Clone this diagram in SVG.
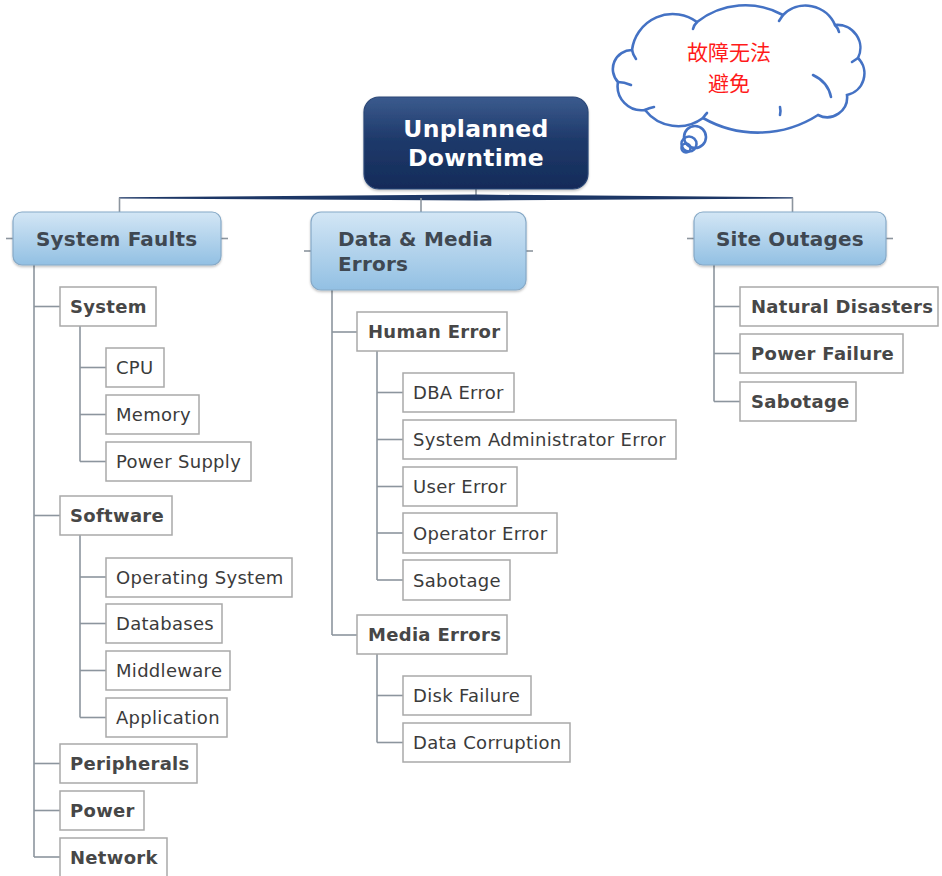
<svg xmlns="http://www.w3.org/2000/svg" width="942" height="876" viewBox="0 0 942 876">
  <style>
    .leaf rect { fill: #ffffff; stroke: #a9a9a9; stroke-width: 1.5; }
    .leaf text { font-family: "DejaVu Sans", Verdana, sans-serif; font-size: 18px; letter-spacing: 0.3px; fill: #3b3b3b; }
    .leaf.bold text { font-weight: bold; fill: #474747; }
    .cat rect { fill: url(#catFill); stroke: #86a9c7; stroke-width: 1.2; filter: url(#soft); }
    .cat text { font-family: "DejaVu Sans", Verdana, sans-serif; font-size: 20px; letter-spacing: 0.2px; font-weight: bold; fill: #3f4852; }
    .conn line { stroke: #8c959e; stroke-width: 1.6; }
    .stub { stroke: #b8c4cf; stroke-width: 1.2; }
    .cloud { fill: #ffffff; stroke: #4472c4; stroke-width: 2.6; stroke-linecap: round; }
    .curl { fill: none; stroke: #4472c4; stroke-width: 2.6; stroke-linecap: round; }
    .cjk { font-family: "Noto Sans CJK SC", "Noto Sans CJK TC", sans-serif; font-size: 21px; fill: #ff1a1a; text-anchor: middle; }
  </style>
  <defs>
    <linearGradient id="rootFill" x1="0" y1="0" x2="0" y2="1">
      <stop offset="0" stop-color="#3b5b8e"/>
      <stop offset="0.45" stop-color="#1f3a6b"/>
      <stop offset="1" stop-color="#142b59"/>
    </linearGradient>
    <linearGradient id="catFill" x1="0" y1="0" x2="0" y2="1">
      <stop offset="0" stop-color="#d3e6f5"/>
      <stop offset="1" stop-color="#92c0e3"/>
    </linearGradient>
    <filter id="soft" x="-10%" y="-10%" width="120%" height="130%">
      <feDropShadow dx="0" dy="1.5" stdDeviation="1.2" flood-color="#000000" flood-opacity="0.25"/>
    </filter>
  </defs>

  <rect width="942" height="876" fill="#ffffff"/>

  <!-- connectors -->
  <g id="connectors" class="conn">
    <!-- root trunk and tapered bar -->
    <line x1="476" y1="189" x2="476" y2="197"/>
    <polygon points="119,197.2 476,194.6 793,197.2 793,198.6 476,200.4 119,198.6" fill="#1d3766" stroke="none"/>
    <line x1="119.5" y1="197.5" x2="119.5" y2="212" stroke="#6a7178"/>
    <line x1="421" y1="198" x2="421" y2="212" stroke="#6a7178"/>
    <line x1="792.5" y1="197.5" x2="792.5" y2="212" stroke="#6a7178"/>
    <!-- side stubs on category boxes -->
    <line class="stub" x1="6" y1="238.5" x2="13" y2="238.5"/>
    <line class="stub" x1="221" y1="238.5" x2="228" y2="238.5"/>
    <line class="stub" x1="304" y1="251" x2="311" y2="251"/>
    <line class="stub" x1="526" y1="251" x2="533" y2="251"/>
    <line class="stub" x1="687" y1="238.5" x2="694" y2="238.5"/>
    <line class="stub" x1="886" y1="238.5" x2="893" y2="238.5"/>
    <!-- System Faults -->
    <line x1="34" y1="265" x2="34" y2="857"/>
    <line x1="34" y1="306.5" x2="60" y2="306.5"/>
    <line x1="34" y1="515.5" x2="60" y2="515.5"/>
    <line x1="34" y1="763.5" x2="60" y2="763.5"/>
    <line x1="34" y1="810.5" x2="60" y2="810.5"/>
    <line x1="34" y1="857" x2="60" y2="857"/>
    <line x1="80" y1="326" x2="80" y2="461.5"/>
    <line x1="80" y1="367.5" x2="106" y2="367.5"/>
    <line x1="80" y1="414.5" x2="106" y2="414.5"/>
    <line x1="80" y1="461.5" x2="106" y2="461.5"/>
    <line x1="80" y1="535" x2="80" y2="717.5"/>
    <line x1="80" y1="577" x2="106" y2="577"/>
    <line x1="80" y1="623.5" x2="106" y2="623.5"/>
    <line x1="80" y1="670.5" x2="106" y2="670.5"/>
    <line x1="80" y1="717.5" x2="106" y2="717.5"/>
    <!-- Data & Media Errors -->
    <line x1="332" y1="290" x2="332" y2="635"/>
    <line x1="332" y1="332" x2="357" y2="332"/>
    <line x1="332" y1="635" x2="357" y2="635"/>
    <line x1="377" y1="351" x2="377" y2="580"/>
    <line x1="377" y1="392.5" x2="403" y2="392.5"/>
    <line x1="377" y1="439.5" x2="403" y2="439.5"/>
    <line x1="377" y1="486.5" x2="403" y2="486.5"/>
    <line x1="377" y1="533" x2="403" y2="533"/>
    <line x1="377" y1="580" x2="403" y2="580"/>
    <line x1="377" y1="654" x2="377" y2="742.5"/>
    <line x1="377" y1="695.5" x2="403" y2="695.5"/>
    <line x1="377" y1="742.5" x2="403" y2="742.5"/>
    <!-- Site Outages -->
    <line x1="714" y1="264" x2="714" y2="401.5"/>
    <line x1="714" y1="306.5" x2="740" y2="306.5"/>
    <line x1="714" y1="353.5" x2="740" y2="353.5"/>
    <line x1="714" y1="401.5" x2="740" y2="401.5"/>
  </g>

  <!-- root -->
  <g id="root">
    <rect x="364" y="97" width="224" height="92" rx="15" fill="url(#rootFill)" stroke="#2a4676" stroke-width="1.2" filter="url(#soft)"/>
    <text x="476" y="137" text-anchor="middle" font-family="DejaVu Sans, Verdana, sans-serif" font-size="23.5px" letter-spacing="0.3" font-weight="bold" fill="#ffffff">Unplanned</text>
    <text x="476" y="165.5" text-anchor="middle" font-family="DejaVu Sans, Verdana, sans-serif" font-size="23.5px" letter-spacing="0.3" font-weight="bold" fill="#ffffff">Downtime</text>
  </g>

  <!-- categories -->
  <g id="system-faults" class="cat">
    <rect x="13" y="212" width="208" height="53" rx="9"/>
    <text x="36" y="245.5">System Faults</text>
  </g>
  <g id="data-media-errors" class="cat">
    <rect x="311" y="212" width="215" height="78" rx="10"/>
    <text x="338" y="245.5">Data &amp; Media</text>
    <text x="338" y="270.5">Errors</text>
  </g>
  <g id="site-outages" class="cat">
    <rect x="694" y="212" width="192" height="53" rx="9"/>
    <text x="716" y="245.5">Site Outages</text>
  </g>

  <!-- System Faults branch -->
  <g id="system" class="leaf bold"><rect x="60" y="287" width="96" height="39"/><text x="70" y="313">System</text></g>
  <g id="cpu" class="leaf"><rect x="106" y="348" width="58" height="39"/><text x="116" y="374">CPU</text></g>
  <g id="memory" class="leaf"><rect x="106" y="395" width="93" height="39"/><text x="116" y="421">Memory</text></g>
  <g id="power-supply" class="leaf"><rect x="106" y="442" width="145" height="39"/><text x="116" y="468">Power Supply</text></g>
  <g id="software" class="leaf bold"><rect x="60" y="496" width="112" height="39"/><text x="70" y="522">Software</text></g>
  <g id="operating-system" class="leaf"><rect x="106" y="558" width="186" height="39"/><text x="116" y="584">Operating System</text></g>
  <g id="databases" class="leaf"><rect x="106" y="604" width="116" height="39"/><text x="116" y="630">Databases</text></g>
  <g id="middleware" class="leaf"><rect x="106" y="651" width="124" height="39"/><text x="116" y="677">Middleware</text></g>
  <g id="application" class="leaf"><rect x="106" y="698" width="121" height="39"/><text x="116" y="724">Application</text></g>
  <g id="peripherals" class="leaf bold"><rect x="60" y="744" width="137" height="39"/><text x="70" y="770">Peripherals</text></g>
  <g id="power" class="leaf bold"><rect x="60" y="791" width="84" height="39"/><text x="70" y="817">Power</text></g>
  <g id="network" class="leaf bold"><rect x="60" y="838" width="107" height="39"/><text x="70" y="864">Network</text></g>

  <!-- Data & Media Errors branch -->
  <g id="human-error" class="leaf bold"><rect x="357" y="312" width="150" height="39"/><text x="368" y="338">Human Error</text></g>
  <g id="dba-error" class="leaf"><rect x="403" y="373" width="111" height="39"/><text x="413" y="399">DBA Error</text></g>
  <g id="sysadmin-error" class="leaf"><rect x="403" y="420" width="273" height="39"/><text x="413" y="446">System Administrator Error</text></g>
  <g id="user-error" class="leaf"><rect x="403" y="467" width="114" height="39"/><text x="413" y="493">User Error</text></g>
  <g id="operator-error" class="leaf"><rect x="403" y="513" width="154" height="40"/><text x="413" y="540">Operator Error</text></g>
  <g id="sabotage-human" class="leaf"><rect x="403" y="560" width="107" height="40"/><text x="413" y="587">Sabotage</text></g>
  <g id="media-errors" class="leaf bold"><rect x="357" y="615" width="150" height="39"/><text x="368" y="641">Media Errors</text></g>
  <g id="disk-failure" class="leaf"><rect x="403" y="676" width="128" height="39"/><text x="413" y="702">Disk Failure</text></g>
  <g id="data-corruption" class="leaf"><rect x="403" y="723" width="167" height="39"/><text x="413" y="749">Data Corruption</text></g>

  <!-- Site Outages branch -->
  <g id="natural-disasters" class="leaf bold"><rect x="740" y="287" width="198" height="39"/><text x="751" y="313">Natural Disasters</text></g>
  <g id="power-failure" class="leaf bold"><rect x="740" y="334" width="163" height="39"/><text x="751" y="360">Power Failure</text></g>
  <g id="sabotage-site" class="leaf bold"><rect x="740" y="382" width="116" height="39"/><text x="751" y="408">Sabotage</text></g>

  <!-- thought bubble -->
  <g id="thought-cloud">
    <path class="cloud" d="M 632,50 A 41 41 0 0 1 697,22 A 78 78 0 0 1 783,15 A 32 32 0 0 1 835,25 A 23 23 0 0 1 858,58 A 22 22 0 0 1 847,95 A 20 20 0 0 1 818,115 A 111 111 0 0 1 703,118 A 42 42 0 0 1 645,110 A 24 24 0 0 1 618,82 A 19 19 0 0 1 632,50 Z"/>
    <path class="curl" d="M 632,50 Q 633,55 636,59"/>
    <path class="curl" d="M 697,22 Q 694,25 693,29"/>
    <path class="curl" d="M 783,15 Q 781,18 779,21"/>
    <path class="curl" d="M 835,25 Q 838,28 839,32"/>
    <path class="curl" d="M 858,58 Q 855,60 852,62"/>
    <path class="curl" d="M 813,75 Q 828,82 831,97"/>
    <path class="curl" d="M 780,115 Q 781,111 780,107"/>
    <path class="curl" d="M 703,118 Q 705,115 707,113"/>
    <path class="curl" d="M 645,110 Q 649,108 654,107"/>
    <path class="curl" d="M 618,82 Q 624,82 631,85"/>
    <circle class="cloud" cx="695" cy="137" r="11"/>
    <circle class="curl" cx="689" cy="144" r="7.5"/>
    <circle class="curl" cx="686" cy="148" r="4.5"/>
    <text class="cjk" x="729" y="60">故障无法</text>
    <text class="cjk" x="729" y="91">避免</text>
  </g>
</svg>
